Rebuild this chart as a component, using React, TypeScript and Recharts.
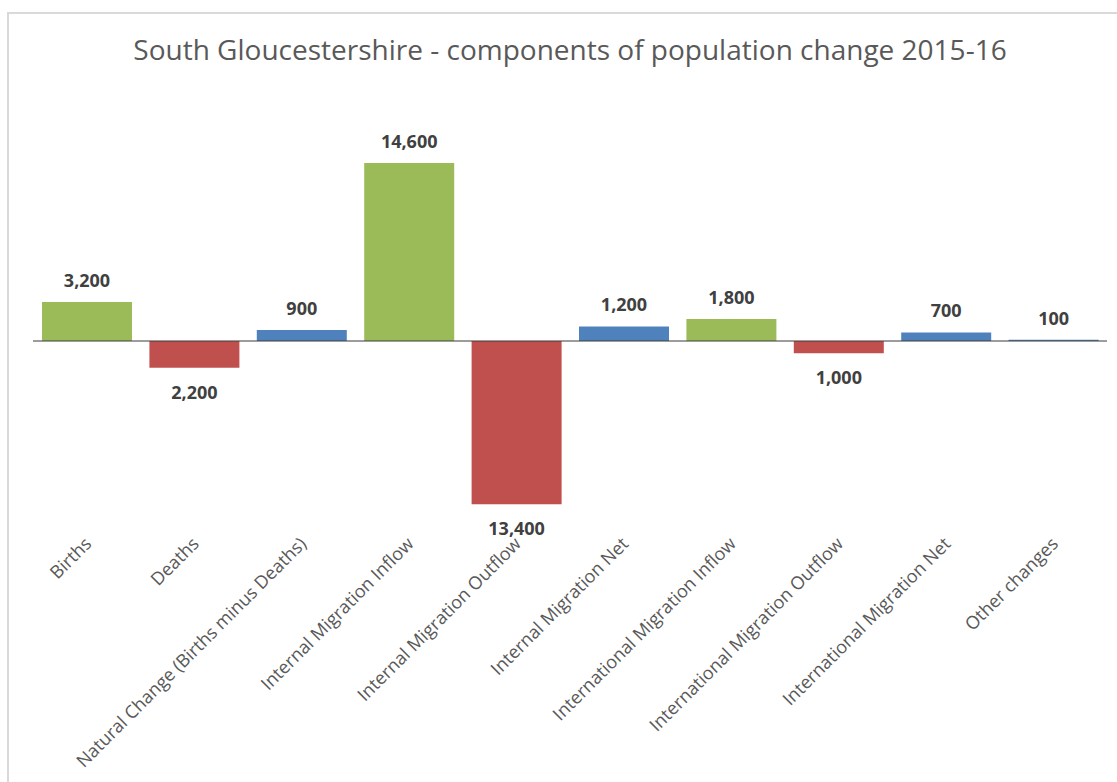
import React from 'react';
import { BarChart, Bar, XAxis, YAxis, Cell, LabelList, ReferenceLine } from 'recharts';

const categories = [
  'Births',
  'Deaths',
  'Natural Change (Births minus Deaths)',
  'Internal Migration Inflow',
  'Internal Migration Outflow',
  'Internal Migration Net',
  'International Migration Inflow',
  'International Migration Outflow',
  'International Migration Net',
  'Other changes',
];
const values = [3200, -2200, 900, 14600, -13400, 1200, 1800, -1000, 700, 100];
// in = inflow (green), out = outflow (red), net = net figure (blue)
const kinds = ['in', 'out', 'net', 'in', 'out', 'net', 'in', 'out', 'net', 'net'];

const colours: Record<string, string> = {
  in: '#9BBB59',
  out: '#C0504D',
  net: '#4F81BD',
};

const FONT = '"Open Sans", "Noto Sans", sans-serif';

const data = categories.map((name, i) => ({ name, value: values[i], kind: kinds[i] }));

// labels show the size of the change, without the sign
const ValueLabel = (props: any) => {
  const { x, y, width, height, value } = props;
  const top = Math.min(y, y + height);
  const bottom = Math.max(y, y + height);
  const cx = x + width / 2;
  const ly = value >= 0 ? top - 22 : bottom + 24;
  return (
    <text
      x={cx}
      y={ly}
      textAnchor="middle"
      dominantBaseline="central"
      fill="#404040"
      fontFamily={FONT}
      fontWeight="bold"
      fontSize={18}
    >
      {Math.abs(Number(value)).toLocaleString('en-GB')}
    </text>
  );
};

const AxisTick = (props: any) => {
  const { x, y, payload } = props;
  const tx = x + 1;
  const ty = y - 4;
  return (
    <text
      x={tx}
      y={ty}
      transform={`rotate(-45, ${tx}, ${ty})`}
      textAnchor="end"
      dominantBaseline="central"
      fill="#595959"
      fontFamily={FONT}
      fontSize={18}
    >
      {payload.value}
    </text>
  );
};

export default function App() {
  return (
    <div
      style={{
        position: 'absolute',
        left: 7,
        top: 12,
        width: 1110,
        height: 770,
        borderTop: '2px solid #d9d9d9',
        borderLeft: '2px solid #d9d9d9',
        background: '#fff',
        overflow: 'hidden',
      }}
    >
      <div
        style={{
          position: 'absolute',
          left: 0,
          width: 1122,
          top: 16,
          textAlign: 'center',
          fontFamily: FONT,
          fontSize: 28,
          color: '#595959',
          whiteSpace: 'nowrap',
        }}
      >
        South Gloucestershire - components of population change 2015-16
      </div>
      <BarChart
        width={1108}
        height={768}
        data={data}
        margin={{ top: 132, right: 10, left: 24, bottom: 0 }}
      >
        <XAxis
          dataKey="name"
          interval={0}
          axisLine={false}
          tickLine={false}
          height={246}
          tick={<AxisTick />}
        />
        <YAxis hide domain={[-16000, 16000]} />
        <ReferenceLine y={0} stroke="#3a3a3a" strokeWidth={1} />
        <Bar dataKey="value" barSize={90} isAnimationActive={false}>
          {data.map((d, i) => (
            <Cell key={i} fill={colours[d.kind]} />
          ))}
          <LabelList dataKey="value" content={<ValueLabel />} />
        </Bar>
      </BarChart>
    </div>
  );
}
